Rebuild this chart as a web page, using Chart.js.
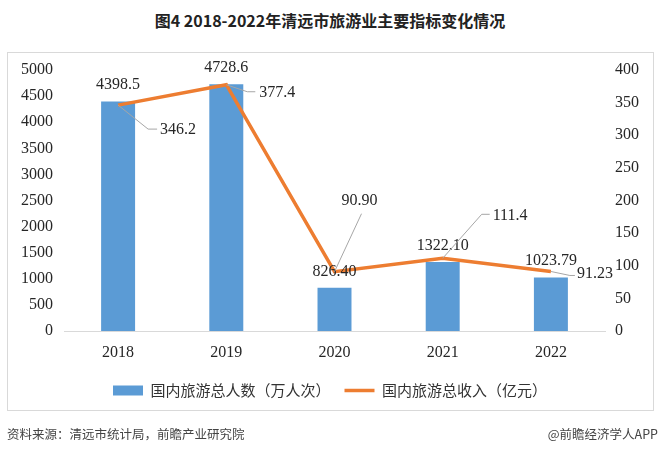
<!DOCTYPE html>
<html>
<head>
<meta charset="utf-8">
<script src="https://cdn.jsdelivr.net/npm/chart.js"></script>
<style>
  body { margin: 0; background: #fff; width: 660px; height: 456px; position: relative; overflow: hidden; font-family: "Noto Sans CJK SC", sans-serif; }
  #title { position: absolute; left: 0; top: 9px; width: 660px; text-align: center; font-size: 16px; font-weight: bold; color: #222; line-height: 22px; }
  #frame { position: absolute; left: 7px; top: 52px; width: 645px; height: 357px; border: 1px solid #d9d9d9; }
  #src { position: absolute; left: 7px; top: 425px; font-size: 12.5px; line-height: 18px; color: #444; }
  #app { position: absolute; right: 2px; top: 425px; font-size: 12.5px; line-height: 18px; color: #444; }
  canvas { position: absolute; left: 0; top: 0; }
</style>
</head>
<body>
<div id="title">图4 2018-2022年清远市旅游业主要指标变化情况</div>
<div id="frame"></div>
<canvas id="myChart" width="660" height="456"></canvas>
<div id="src">资料来源：清远市统计局，前瞻产业研究院</div>
<div id="app">@前瞻经济学人APP</div>
<script>
const years = ['2018', '2019', '2020', '2021', '2022'];
const visitors = [4398.5, 4728.6, 826.4, 1322.1, 1023.79];
const visitorLabels = ['4398.5', '4728.6', '826.40', '1322.10', '1023.79'];
const income = [346.2, 377.4, 90.9, 111.4, 91.23];
const incomeLabels = ['346.2', '377.4', '90.90', '111.4', '91.23'];
const seriesNames = ['国内旅游总人数（万人次）', '国内旅游总收入（亿元）'];

const blue = '#5b9bd5';
const orange = '#ed7d31';
const serif = { family: '"Liberation Serif", "Times New Roman", serif', size: 16 };

// leader lines for the income labels: elbow dx/dy, end dx/dy, text dx/dy, align
const callouts = [
  [30, 24, 39, 24, 42, 25, 'left'],
  [21, 7, 29, 7, 33, 8, 'left'],
  [27, -58, 27, -58, 25, -71, 'center'],
  [39, -44, 47, -44, 50, -43, 'left'],
  [19, 4, 24, 4, 26, 2, 'left']
];

const valueLabels = {
  id: 'valueLabels',
  afterDatasetsDraw(chart) {
    const ctx = chart.ctx;
    ctx.save();
    ctx.font = '16px "Liberation Serif", serif';
    ctx.fillStyle = '#262626';
    ctx.textBaseline = 'middle';
    ctx.textAlign = 'center';
    chart.getDatasetMeta(0).data.forEach((b, i) => {
      ctx.fillText(visitorLabels[i], b.x, b.y - 16.5);
    });
    ctx.strokeStyle = '#a6a6a6';
    ctx.lineWidth = 1;
    chart.getDatasetMeta(1).data.forEach((p, i) => {
      const c = callouts[i];
      ctx.beginPath();
      ctx.moveTo(p.x, p.y);
      ctx.lineTo(p.x + c[0], p.y + c[1]);
      ctx.lineTo(p.x + c[2], p.y + c[3]);
      ctx.stroke();
      ctx.textAlign = c[6];
      ctx.fillText(incomeLabels[i], p.x + c[4], p.y + c[5]);
    });
    ctx.restore();
  }
};

const ctx = document.getElementById('myChart');

new Chart(ctx, {
  type: 'bar',
  data: {
    labels: years,
    datasets: [
      {
        type: 'bar',
        label: seriesNames[0],
        data: visitors,
        backgroundColor: blue,
        yAxisID: 'y',
        barPercentage: 0.314,
        categoryPercentage: 1,
        order: 2
      },
      {
        type: 'line',
        label: seriesNames[1],
        data: income,
        borderColor: orange,
        borderWidth: 3.5,
        pointRadius: 0,
        tension: 0,
        yAxisID: 'y1',
        order: 1
      }
    ]
  },
  options: {
    responsive: false,
    devicePixelRatio: 1,
    animation: false,
    layout: { padding: { top: 70, bottom: 48, left: 0, right: 0 } },
    plugins: {
      tooltip: { enabled: false },
      legend: {
        position: 'bottom',
        labels: {
          font: { family: '"Noto Sans CJK SC", sans-serif', size: 15 },
          color: '#333',
          usePointStyle: true,
          pointStyleWidth: 30,
          boxHeight: 10,
          padding: 14,
          generateLabels: () => [
            { text: seriesNames[0], fillStyle: blue, strokeStyle: blue, lineWidth: 0, pointStyle: 'rect', datasetIndex: 0, fontColor: '#333' },
            { text: seriesNames[1], fillStyle: orange, strokeStyle: orange, lineWidth: 3.5, lineCap: 'butt', pointStyle: 'line', datasetIndex: 1, fontColor: '#333' }
          ]
        }
      }
    },
    scales: {
      x: {
        grid: { display: false, drawTicks: false },
        border: { display: true, color: '#d9d9d9' },
        ticks: { padding: 12, font: serif, color: '#262626' },
        afterFit(s) { s.height = 38; }
      },
      y: {
        position: 'left',
        min: 0,
        max: 5000,
        ticks: { stepSize: 500, padding: 11, font: serif, color: '#262626', callback: v => String(v) },
        grid: { display: false, drawTicks: false },
        border: { display: false },
        afterFit(s) { s.width = 64; }
      },
      y1: {
        position: 'right',
        min: 0,
        max: 400,
        ticks: { stepSize: 50, padding: 10, font: serif, color: '#262626', callback: v => String(v) },
        grid: { display: false, drawTicks: false },
        border: { display: false },
        afterFit(s) { s.width = 55; }
      }
    }
  },
  plugins: [valueLabels]
});
</script>
</body>
</html>
